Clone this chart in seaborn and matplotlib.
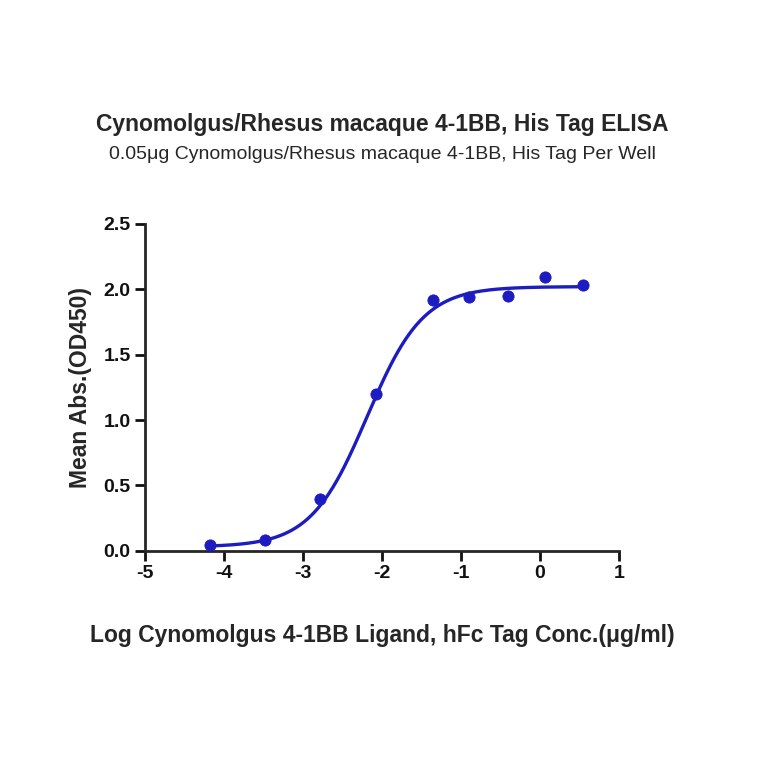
import numpy as np
import pandas as pd
import seaborn as sns
import matplotlib
matplotlib.use("Agg")
import matplotlib.pyplot as plt

log_conc = [-4.18, -3.48, -2.78, -2.08, -1.36, -0.90, -0.41, 0.06, 0.54]
mean_abs = [0.046, 0.084, 0.40, 1.20, 1.92, 1.94, 1.95, 2.09, 2.03]
# 4PL fit parameters
bottom, top, logec50, hill = 0.03, 2.02, -2.19, 1.22

sns.set_style("ticks")
plt.rcParams['font.family'] = ['Liberation Sans', 'DejaVu Sans']
plt.rcParams['axes.unicode_minus'] = False
fig = plt.figure(figsize=(7.64, 7.64), dpi=100)
ax = fig.add_axes([0.19, 0.279, 0.62, 0.428])
color = "#1c1cc0"
xs = np.linspace(-4.18, 0.54, 300)
ys = bottom + (top - bottom) / (1 + 10 ** ((logec50 - xs) * hill))
ax.plot(xs, ys, color=color, lw=2.4)
sns.scatterplot(x=log_conc, y=mean_abs, ax=ax, color=color, s=65, edgecolor=color, zorder=3, clip_on=False)
ax.set_xlim(-5, 1)
ax.set_ylim(0, 2.5)
ax.set_xticks(range(-5, 2))
ax.set_yticks([0, 0.5, 1.0, 1.5, 2.0, 2.5])
ax.set_yticklabels(["0.0", "0.5", "1.0", "1.5", "2.0", "2.5"])
for s in ["top", "right"]:
    ax.spines[s].set_visible(False)
for s in ["left", "bottom"]:
    ax.spines[s].set_linewidth(2)
ax.tick_params(width=2, length=7, labelsize=14, colors="#111111")
for lab in ax.get_xticklabels() + ax.get_yticklabels():
    lab.set_fontweight("bold")
ax.set_ylabel("Mean Abs.(OD450)", fontsize=16.5, fontweight="bold", labelpad=8)
ax.set_xlabel("Log Cynomolgus 4-1BB Ligand, hFc Tag Conc.(μg/ml)", fontsize=16.5, fontweight="bold", labelpad=30)
fig.text(0.5, 0.828, "Cynomolgus/Rhesus macaque 4-1BB, His Tag ELISA", ha="center", fontsize=16.5, fontweight="bold")
fig.text(0.5, 0.792, "0.05μg Cynomolgus/Rhesus macaque 4-1BB, His Tag Per Well", ha="center", fontsize=14)
fig.savefig("out.png", dpi=100)
